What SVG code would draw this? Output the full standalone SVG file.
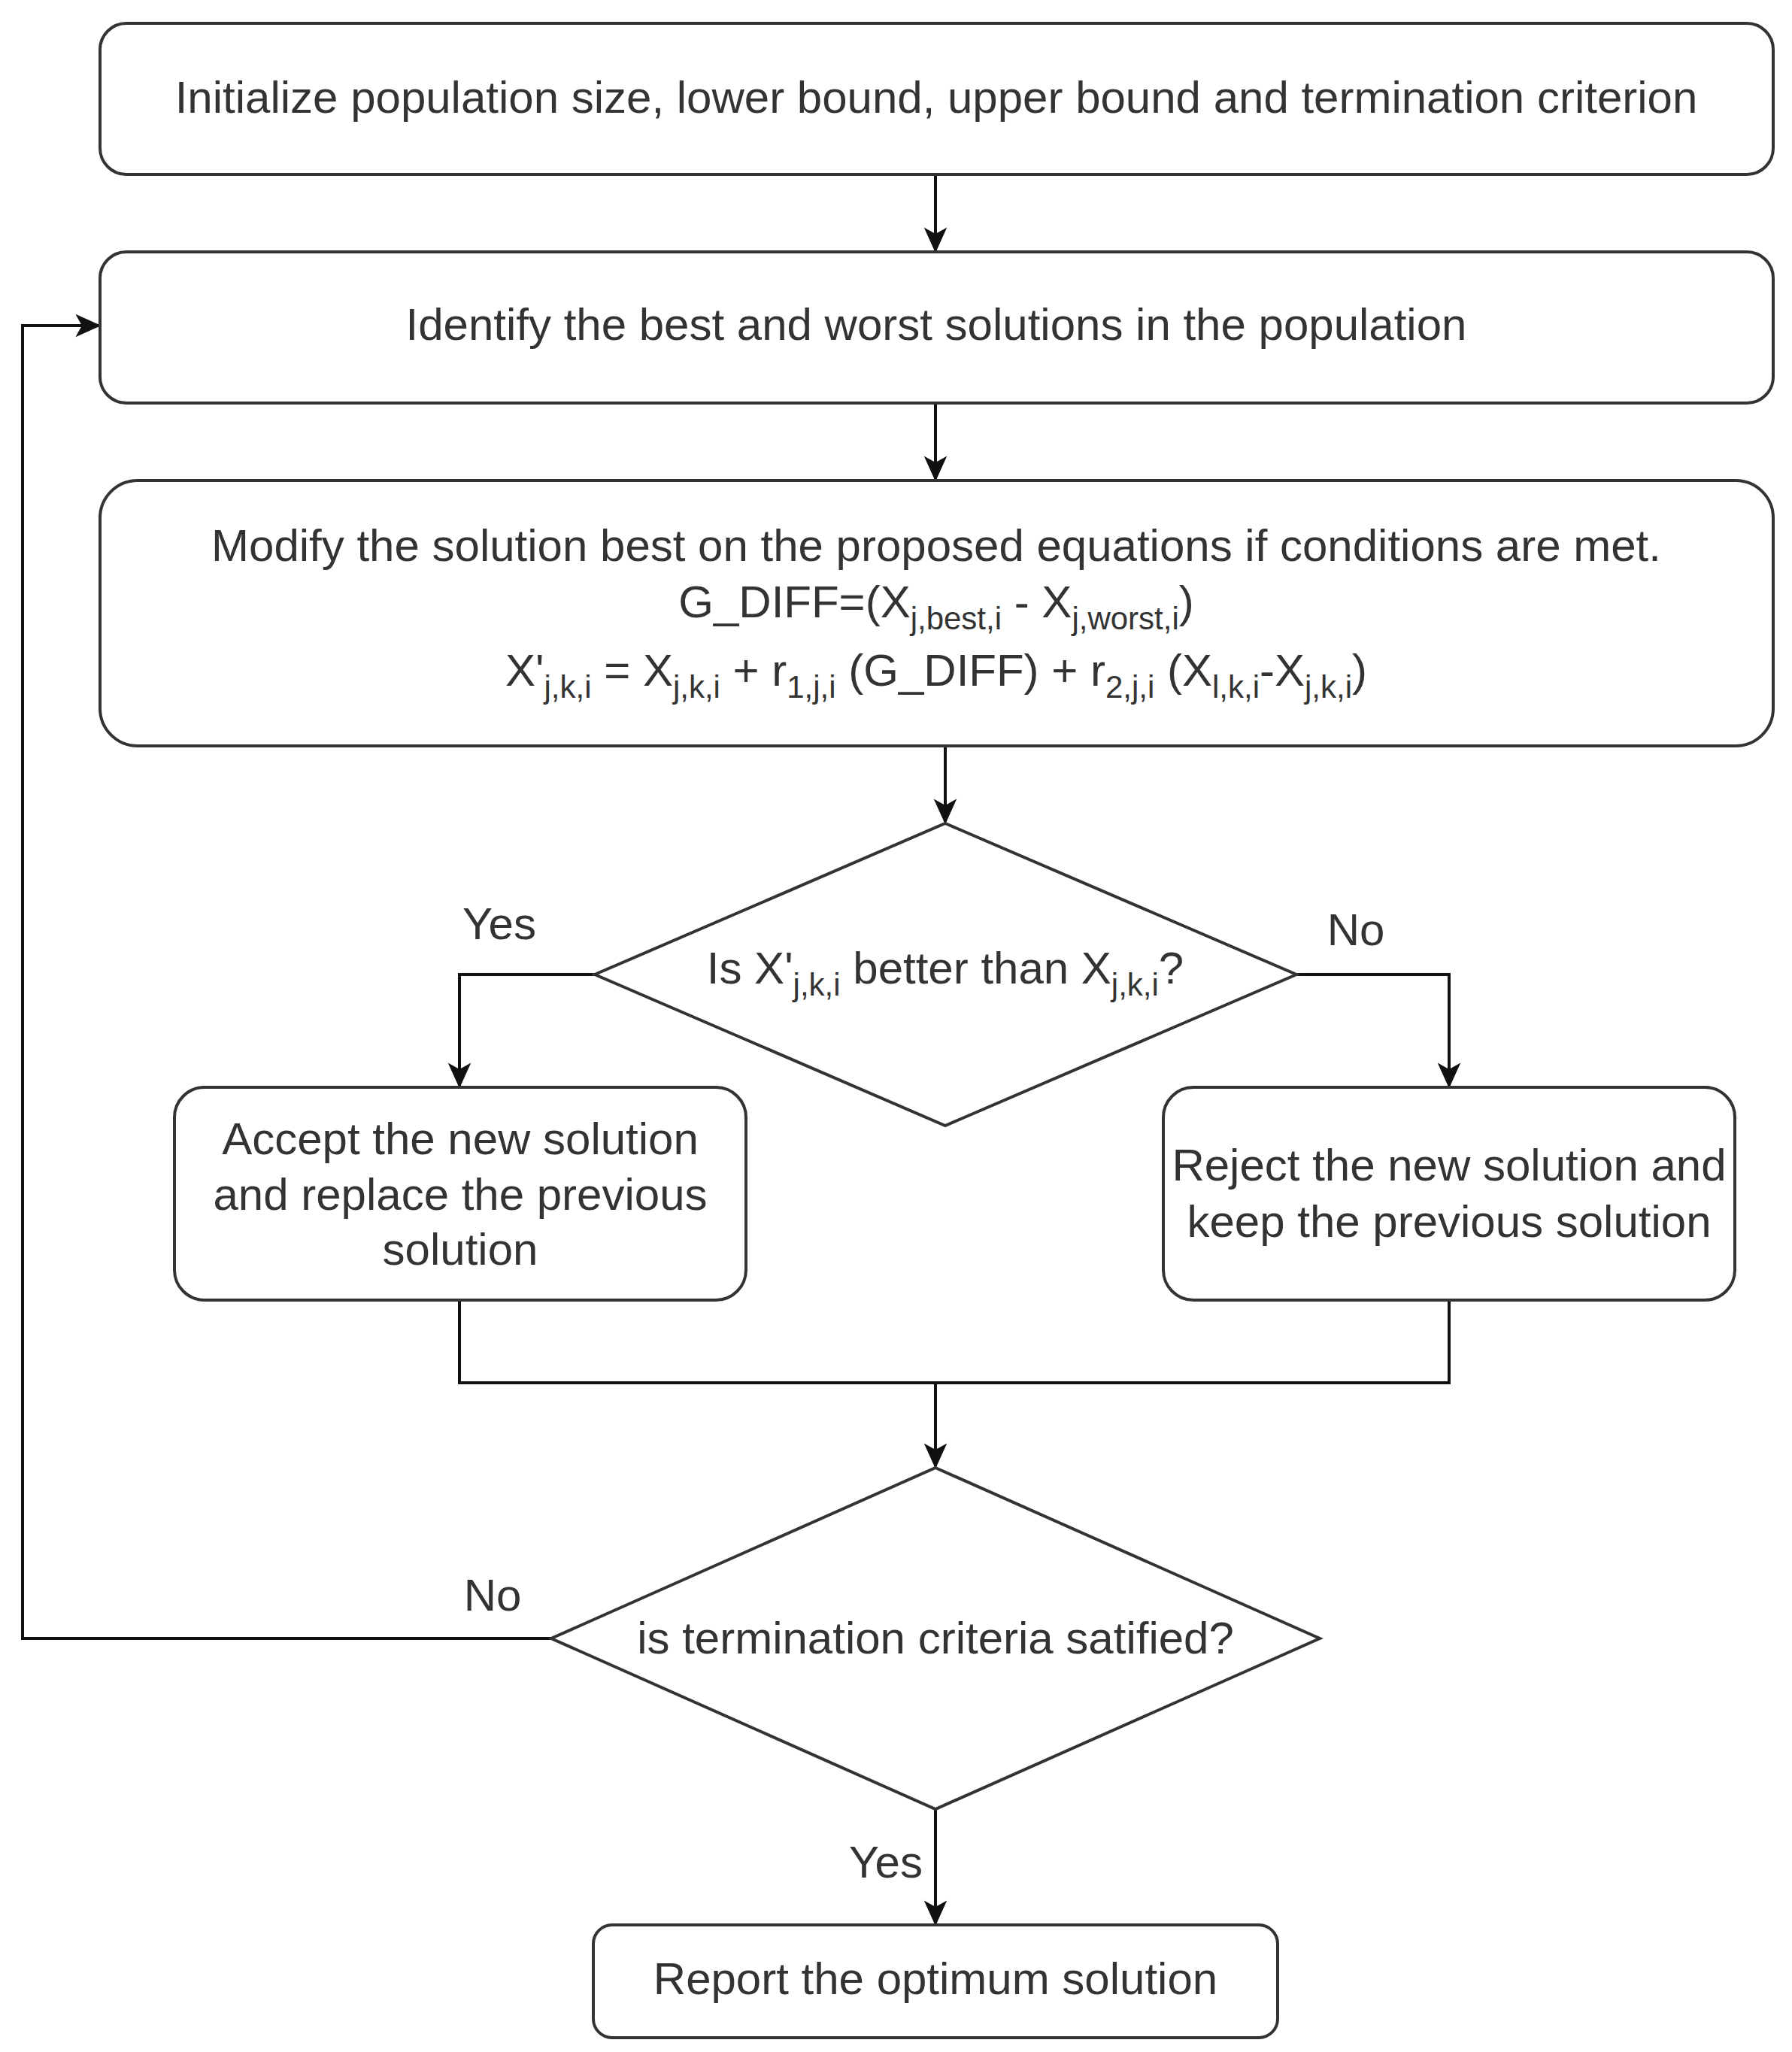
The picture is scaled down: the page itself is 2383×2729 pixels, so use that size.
<svg xmlns="http://www.w3.org/2000/svg" width="2383" height="2729" viewBox="0 0 2383 2729">
<style>
.n{fill:#fff;stroke:#333;stroke-width:4}
.t{font-family:"Liberation Sans",Arial,sans-serif;font-size:60px;fill:#333;text-anchor:middle}
.s{font-size:42px}
.c{fill:none;stroke:#111;stroke-width:4}
</style>
<defs>
<marker id="a" viewBox="0 0 20 20" refX="18" refY="10" markerWidth="34" markerHeight="34" markerUnits="userSpaceOnUse" orient="auto">
<path d="M0,1 L20,10 L0,19 L5,10 Z" fill="#111"/>
</marker>
</defs>
<rect width="2383" height="2729" fill="#fff"/>
<g id="connectors">
<path class="c" d="M1244,232 V333" marker-end="url(#a)"/>
<path class="c" d="M1244,536 V637" marker-end="url(#a)"/>
<path class="c" d="M1257,992 V1093" marker-end="url(#a)"/>
<path class="c" d="M791,1296 H611 V1444" marker-end="url(#a)"/>
<path class="c" d="M1724,1296 H1927 V1444" marker-end="url(#a)"/>
<path class="c" d="M611,1729 V1839 H1927 V1729"/>
<path class="c" d="M1244,1839 V1950" marker-end="url(#a)"/>
<path class="c" d="M733,2179 H30 V433 H131" marker-end="url(#a)"/>
<path class="c" d="M1244,2406 V2558" marker-end="url(#a)"/>
<text class="t" x="664" y="1249">Yes</text>
<text class="t" x="1803" y="1257">No</text>
<text class="t" x="655" y="2142">No</text>
<text class="t" x="1178" y="2497">Yes</text>
</g>
<g id="init">
<rect class="n" x="133" y="31" width="2225" height="201" rx="35"/>
<text class="t" x="1245" y="150">Initialize population size, lower bound, upper bound and termination criterion</text>
</g>
<g id="identify">
<rect class="n" x="133" y="335" width="2225" height="201" rx="35"/>
<text class="t" x="1245" y="452">Identify the best and worst solutions in the population</text>
</g>
<g id="modify">
<rect class="n" x="133" y="639" width="2225" height="353" rx="50"/>
<text class="t" x="1245" y="746">Modify the solution best on the proposed equations if conditions are met.</text>
<text class="t" x="1245" y="821">G_DIFF=(X<tspan class="s" dy="16">j,best,i</tspan><tspan dy="-16"> - X</tspan><tspan class="s" dy="16">j,worst,i</tspan><tspan dy="-16">)</tspan></text>
<text class="t" x="1245" y="912">X'<tspan class="s" dy="16">j,k,i</tspan><tspan dy="-16"> = X</tspan><tspan class="s" dy="16">j,k,i</tspan><tspan dy="-16"> + r</tspan><tspan class="s" dy="16">1,j,i</tspan><tspan dy="-16"> (G_DIFF) + r</tspan><tspan class="s" dy="16">2,j,i</tspan><tspan dy="-16"> (X</tspan><tspan class="s" dy="16">l,k,i</tspan><tspan dy="-16">-X</tspan><tspan class="s" dy="16">j,k,i</tspan><tspan dy="-16">)</tspan></text>
</g>
<g id="better">
<polygon class="n" points="1257,1095 1724,1296 1257,1497 791,1296"/>
<text class="t" x="1257" y="1308">Is X'<tspan class="s" dy="16">j,k,i</tspan><tspan dy="-16"> better than X</tspan><tspan class="s" dy="16">j,k,i</tspan><tspan dy="-16">?</tspan></text>
</g>
<g id="accept">
<rect class="n" x="232" y="1446" width="760" height="283" rx="40"/>
<text class="t" x="612" y="1535">Accept the new solution</text>
<text class="t" x="612" y="1609">and replace the previous</text>
<text class="t" x="612" y="1682">solution</text>
</g>
<g id="reject">
<rect class="n" x="1547" y="1446" width="760" height="283" rx="40"/>
<text class="t" x="1927" y="1570">Reject the new solution and</text>
<text class="t" x="1927" y="1645">keep the previous solution</text>
</g>
<g id="terminate">
<polygon class="n" points="1244,1952 1755,2179 1244,2406 733,2179"/>
<text class="t" x="1244" y="2199">is termination criteria satified?</text>
</g>
<g id="report">
<rect class="n" x="789" y="2560" width="910" height="150" rx="25"/>
<text class="t" x="1244" y="2652">Report the optimum solution</text>
</g>
</svg>
